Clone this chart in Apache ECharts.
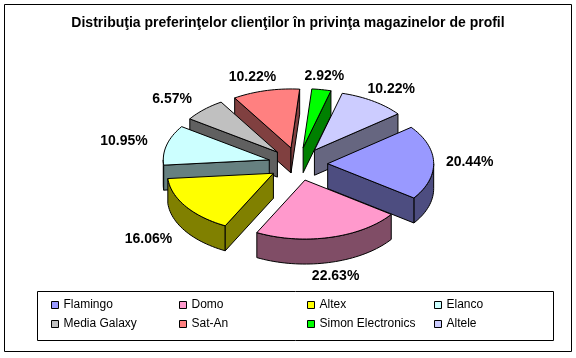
<!DOCTYPE html>
<html><head><meta charset="utf-8">
<script src="https://cdn.jsdelivr.net/npm/echarts@6/dist/echarts.min.js"></script>
<style>html,body{margin:0;padding:0;background:#fff}#c{width:576px;height:358px}</style>
</head><body><div id="c"></div>
<script>
const chartTitle = 'Distribuţia preferinţelor clienţilor în privinţa magazinelor de profil';
const categories = ['Flamingo','Domo','Altex','Elanco','Media Galaxy','Sat-An','Simon Electronics','Altele'];
const values = [20.44, 22.63, 16.06, 10.95, 6.57, 10.22, 2.92, 10.22];
const topColors = ['#9999FF','#FF99CC','#FFFF00','#CCFFFF','#C0C0C0','#FF8080','#00FF00','#CCCCFF'];
const sideColors = ['#4D4D80','#804D66','#808000','#668080','#606060','#804040','#008000','#666680'];

const G = {cx:298, cy:164, rx:106, ry:59, depth:25, explode:0.28, firstAngle:52, labelGapX:40, labelGapY:14};
const FONT = '"Liberation Sans", Arial, sans-serif';
const total = values.reduce((a, b) => a + b, 0);
const rad = d => d * Math.PI / 180;

function sliceAngles(i) {
  let s = G.firstAngle;
  for (let k = 0; k < i; k++) s += values[k] / total * 360;
  return [s, s + values[i] / total * 360];
}

function makeRender(i) {
  return function (params, api) {
    const v = api.value(0);
    const [a, b] = sliceAngles(i);
    const m = (a + b) / 2;
    const ox = G.explode * G.rx * Math.sin(rad(m));
    const oy = -G.explode * G.ry * Math.cos(rad(m));
    const P = (phi, r, dz) => [G.cx + ox + r * G.rx * Math.sin(rad(phi)), G.cy + oy - r * G.ry * Math.cos(rad(phi)) + dz];
    const arc = (lo, hi, dz) => {
      const n = Math.max(2, Math.ceil((hi - lo) / 2));
      const pts = [];
      for (let k = 0; k <= n; k++) pts.push(P(lo + (hi - lo) * k / n, 1, dz));
      return pts;
    };
    const sideStyle = {fill: sideColors[i], stroke: '#000', lineWidth: 1, lineJoin: 'round'};
    const children = [];
    [[90, 270], [450, 630]].forEach(([f0, f1]) => {
      const lo = Math.max(a, f0), hi = Math.min(b, f1);
      if (hi > lo) {
        const top = arc(lo, hi, 0), bot = arc(lo, hi, G.depth).reverse();
        children.push({type: 'polygon', shape: {points: top.concat(bot)}, style: sideStyle});
      }
    });
    const wall = phi => ({type: 'polygon', shape: {points: [P(phi, 0, 0), P(phi, 1, 0), P(phi, 1, G.depth), P(phi, 0, G.depth)]}, style: sideStyle});
    if (Math.sin(rad(a)) < 0) children.push(wall(a));
    if (Math.sin(rad(b)) > 0) children.push(wall(b));
    children.push({type: 'polygon', shape: {points: [P(m, 0, 0)].concat(arc(a, b, 0))},
      style: {fill: topColors[i], stroke: '#000', lineWidth: 1, lineJoin: 'round'}});
    const s = Math.sin(rad(m)), c = Math.cos(rad(m));
    const lx = G.cx + ox + (G.rx + G.labelGapX) * s - 4;
    const ly = G.cy + oy - (G.ry + G.labelGapY) * c + (c < 0 ? G.depth : 0);
    children.push({type: 'text', style: {text: v.toFixed(2) + '%', x: lx, y: ly, align: 'center', verticalAlign: 'middle',
      font: 'bold 14px ' + FONT, fill: '#000'}});
    return {type: 'group', children};
  };
}

// drawing order: back slices first
const front = values.map((_, i) => { const [a, b] = sliceAngles(i); return -Math.cos(rad((a + b) / 2)); });
const rank = front.map(f => front.filter(g => g < f).length);

// legend: 4 columns x 2 rows
const legendCols = [51, 179, 307, 434];
const legends = legendCols.map((x, col) => ({
  data: [categories[col], categories[col + 4]], left: x, top: 299, orient: 'vertical',
  itemWidth: 7, itemHeight: 7, itemGap: 7, icon: 'rect', padding: 0,
  itemStyle: {borderColor: '#000', borderWidth: 1},
  textStyle: {fontSize: 12, fontFamily: FONT, color: '#000'},
  selectedMode: false
}));

const chart = echarts.init(document.getElementById('c'), null, {renderer: 'canvas'});
chart.setOption({
  animation: false,
  backgroundColor: '#fff',
  color: topColors,
  title: {text: chartTitle, left: 'center', top: 11,
    textStyle: {fontSize: 14, fontWeight: 'bold', fontFamily: FONT, color: '#000'}},
  legend: legends,
  graphic: [
    {type: 'rect', shape: {x: 4.5, y: 4.5, width: 567, height: 347},
      style: {fill: null, stroke: '#000', lineWidth: 1}, silent: true},
    {type: 'rect', shape: {x: 37.5, y: 291.5, width: 516, height: 49},
      style: {fill: null, stroke: '#000', lineWidth: 1}, silent: true}
  ],
  series: categories.map((name, i) => ({
    type: 'custom', name: name, coordinateSystem: 'none',
    z: 2 + rank[i],
    itemStyle: {color: topColors[i]},
    renderItem: makeRender(i),
    data: [values[i]]
  }))
});
</script></body></html>
